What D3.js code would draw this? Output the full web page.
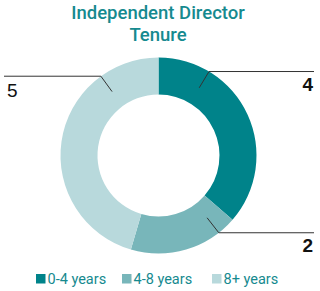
<!DOCTYPE html>
<html>
<head>
<meta charset="utf-8">
<script src="https://cdn.jsdelivr.net/npm/d3@7/dist/d3.min.js"></script>
<style>
  body { margin: 0; background: #fff; }
  svg { display: block; font-family: Roboto, sans-serif; }
</style>
</head>
<body>
<div id="chart"></div>
<script>
// data
const categories = ['0-4 years', '4-8 years', '8+ years'];
const values = [4, 2, 5];
const titleLines = ['Independent Director', 'Tenure'];
const colors = ['#00838a', '#78b6ba', '#b8d9dc'];

// where along each slice the leader line sits (fraction of the slice)
const leaderPos = [0.237, 0.17, 0.78];

const width = 320;
const height = 291;
const cx = 158.5;
const cy = 155.5;
const outerR = 98;
const innerR = 61;

const svg = d3.select('#chart')
  .append('svg')
  .attr('width', width)
  .attr('height', height);

// Title
svg.append('g')
  .selectAll('text')
  .data(titleLines)
  .join('text')
  .attr('x', 158)
  .attr('y', (d, i) => 18.5 + i * 22.4)
  .attr('text-anchor', 'middle')
  .attr('font-size', '18.5px')
  .attr('font-weight', 500)
  .attr('fill', '#168a8f')
  .text((d) => d);

const pie = d3.pie().sort(null).value((d) => d);
const arcs = pie(values);

const arc = d3.arc().innerRadius(innerR).outerRadius(outerR);

const g = svg.append('g')
  .attr('transform', `translate(${cx}, ${cy})`);

g.selectAll('path')
  .data(arcs)
  .join('path')
  .attr('d', arc)
  .attr('fill', (d, i) => colors[i]);

// Leader lines + value labels
const pt = (a, r) => [r * Math.sin(a), -r * Math.cos(a)];

arcs.forEach((d, i) => {
  const a = d.startAngle + leaderPos[i] * (d.endAngle - d.startAngle);
  const p1 = pt(a, 79);
  const p2 = pt(a, outerR);
  const right = Math.sin(a) > 0;
  const xEnd = right ? 314 - cx : 4 - cx;

  g.append('polyline')
    .attr('points', [p1, p2, [xEnd, p2[1]]].map((p) => p.join(',')).join(' '))
    .attr('fill', 'none')
    .attr('stroke', '#333')
    .attr('stroke-width', 1);

  g.append('text')
    .attr('x', right ? 313 - cx : 7 - cx)
    .attr('y', p2[1] + (right ? 19.5 : 20.5))
    .attr('text-anchor', right ? 'end' : 'start')
    .attr('font-family', '"Liberation Sans", Arial, sans-serif')
    .attr('font-size', '19px')
    .attr('font-weight', right ? 'bold' : 'normal')
    .attr('fill', '#111')
    .text(d.data);
});

// Legend
const legendX = [36, 122, 212];
const legend = svg.append('g')
  .selectAll('g')
  .data(categories)
  .join('g')
  .attr('transform', (d, i) => `translate(${legendX[i]}, 274)`);

legend.append('rect')
  .attr('width', 9.5)
  .attr('height', 9.5)
  .attr('fill', (d, i) => colors[i]);

legend.append('text')
  .attr('x', 11.5)
  .attr('y', 9.5)
  .attr('font-size', '14.5px')
  .attr('fill', '#168a8f')
  .text((d) => d);
</script>
</body>
</html>
